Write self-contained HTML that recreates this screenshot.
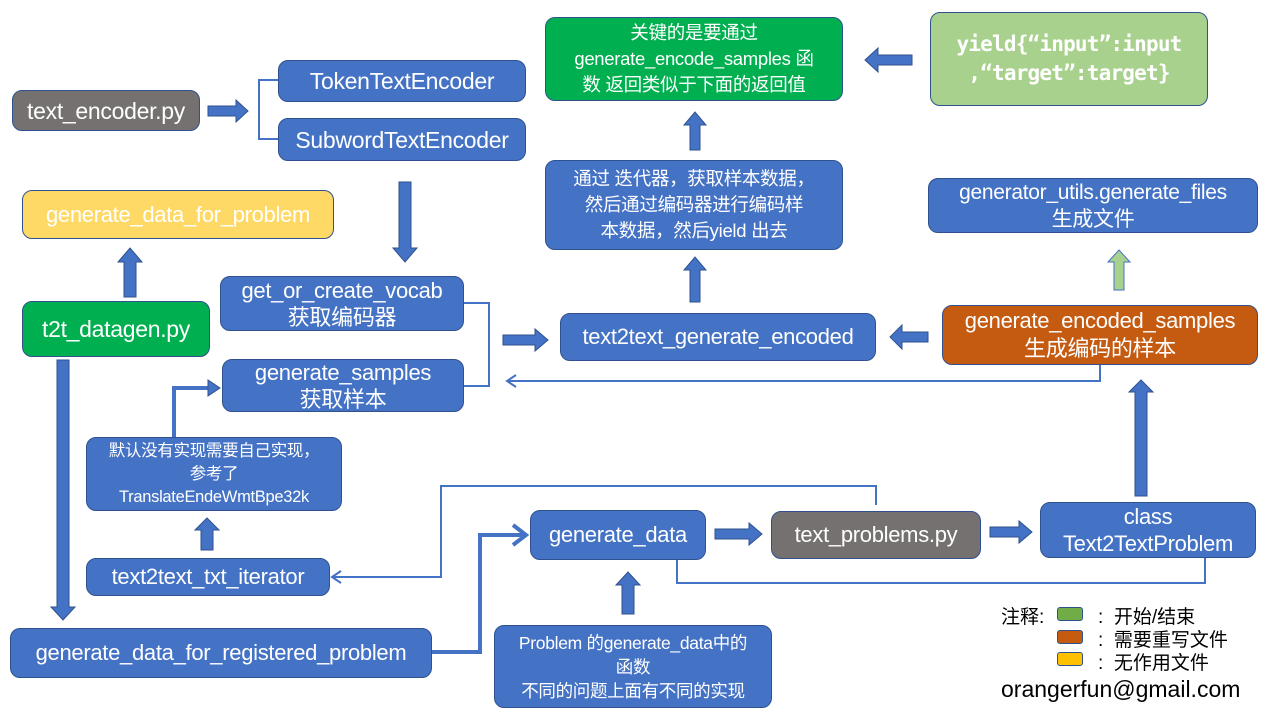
<!DOCTYPE html>
<html><head><meta charset="utf-8"><style>
body{margin:0;width:1280px;height:720px;background:#fff;position:relative;overflow:hidden;font-family:"Liberation Sans","Noto Sans CJK SC",sans-serif;}
.b{position:absolute;box-sizing:border-box;border:1.5px solid #2f528f;border-radius:10px;color:#fff;display:flex;align-items:center;justify-content:center;text-align:center;font-size:19px;line-height:24px;letter-spacing:-0.3px;background:#4472c4;}
.g{background:#767171;}
.gr{background:#00b050;}
.y{background:#ffd966;}
.o{background:#c55a11;}
.lg{background:#a9d18e;}
svg{position:absolute;left:0;top:0;}
.t{position:absolute;font-size:19px;color:#000;}
.sw{position:absolute;width:26px;height:14px;border:1px solid #2f528f;border-radius:3px;box-sizing:border-box;}
</style></head><body>
<svg width="1280" height="720">
<g fill="none" stroke="#4472c4" stroke-width="2">
<polyline points="278,80 259,80 259,139 278,139"/>
<polyline points="464,303 489,303 489,386 464,386"/>
<polyline points="1100,365 1100,381 508,381"/>
<polyline points="516,375 507,381 516,387"/>
<polyline points="876,505 876,486 441,486 441,577 333,577"/>
<polyline points="341,571 332,577 341,583"/>
<polyline points="1205,558 1205,583 677,583 677,560"/>
</g>
<g fill="none" stroke="#4472c4" stroke-width="4">
<polyline points="432,652 480,652 480,535 524,535"/>
<polyline points="513,525 526,535 513,545"/>
<polyline points="174,437 174,388 212,388"/>
</g>
<g fill="#4472c4" stroke="#2f528f" stroke-width="1">
<polygon points="220,388 208,380 208,396"/>
<polygon points="208,106 236,106 236,100 248,111 236,122 236,116 208,116"/>
<polygon points="503,335 535,335 535,329 548,340 535,351 535,345 503,345"/>
<polygon points="715,529 749,529 749,523 762,534 749,545 749,539 715,539"/>
<polygon points="990,527 1019,527 1019,521 1032,532 1019,543 1019,537 990,537"/>
<polygon points="912,55 878,55 878,48 865,60 878,72 878,65 912,65"/>
<polygon points="928,332 902,332 902,325 890,337 902,349 902,342 928,342"/>
<polygon points="690,150 690,125 684,125 695,112 706,125 700,125 700,150"/>
<polygon points="690,302 690,270 684,270 695,257 706,270 700,270 700,302"/>
<polygon points="124,297 124,262 118,262 130,248 142,262 136,262 136,297"/>
<polygon points="201,550 201,530 195,530 207,518 219,530 213,530 213,550"/>
<polygon points="622,614 622,585 616,585 628,572 640,585 634,585 634,614"/>
<polygon points="1135,496 1135,392 1129,392 1141,380 1153,392 1147,392 1147,496"/>
<polygon points="399,182 399,248 393,248 405,262 417,248 411,248 411,182"/>
<polygon points="57,360 57,607 51,607 63,620 75,607 69,607 69,360"/>
</g>
<polygon points="1114,290 1114,262 1108,262 1119,250 1130,262 1124,262 1124,290" fill="#a9d18e" stroke="#4472c4" stroke-width="1"/>
</svg>
<div class="b g" style="left:12px;top:90px;width:188px;height:41px;font-size:23px">text_encoder.py</div>
<div class="b" style="left:278px;top:60px;width:248px;height:42px;font-size:23px">TokenTextEncoder</div>
<div class="b" style="left:278px;top:118px;width:248px;height:43px;font-size:23px">SubwordTextEncoder</div>
<div class="b gr" style="left:545px;top:17px;width:298px;height:84px;font-size:18.5px;line-height:26px">关键的是要通过<br>generate_encode_samples 函<br>数 返回类似于下面的返回值</div>
<div class="b lg" style="left:930px;top:12px;width:278px;height:94px;font-family:'DejaVu Sans Mono','Liberation Mono',monospace;font-size:21px;font-weight:bold;line-height:29px;letter-spacing:-0.8px">yield{“input”:input<br>,“target”:target}</div>
<div class="b" style="left:545px;top:160px;width:298px;height:90px;font-size:18.5px;line-height:26px">通过 迭代器，获取样本数据，<br>然后通过编码器进行编码样<br>本数据，然后yield 出去</div>
<div class="b" style="left:928px;top:178px;width:330px;height:55px;font-size:21px;line-height:27px">generator_utils.generate_files<br>生成文件</div>
<div class="b y" style="left:22px;top:190px;width:312px;height:49px;font-size:22px">generate_data_for_problem</div>
<div class="b gr" style="left:22px;top:301px;width:188px;height:56px;font-size:23px">t2t_datagen.py</div>
<div class="b" style="left:220px;top:276px;width:244px;height:55px;font-size:22px;line-height:27px">get_or_create_vocab<br>获取编码器</div>
<div class="b" style="left:222px;top:359px;width:242px;height:53px;font-size:22px;line-height:27px">generate_samples<br>获取样本</div>
<div class="b" style="left:560px;top:313px;width:316px;height:48px;font-size:22px">text2text_generate_encoded</div>
<div class="b o" style="left:942px;top:305px;width:316px;height:60px;font-size:22px;line-height:28px">generate_encoded_samples<br>生成编码的样本</div>
<div class="b" style="left:86px;top:437px;width:256px;height:74px;font-size:16.5px;line-height:23px">默认没有实现需要自己实现，<br>参考了<br>TranslateEndeWmtBpe32k</div>
<div class="b" style="left:86px;top:558px;width:244px;height:38px;font-size:22px">text2text_txt_iterator</div>
<div class="b" style="left:10px;top:628px;width:422px;height:50px;font-size:22px">generate_data_for_registered_problem</div>
<div class="b" style="left:530px;top:510px;width:176px;height:50px;font-size:22px">generate_data</div>
<div class="b g" style="left:771px;top:511px;width:210px;height:48px;font-size:22px">text_problems.py</div>
<div class="b" style="left:1040px;top:502px;width:216px;height:56px;font-size:22px;line-height:27px">class<br>Text2TextProblem</div>
<div class="b" style="left:494px;top:625px;width:278px;height:83px;font-size:17.5px;line-height:24px">Problem 的generate_data中的<br>函数<br>不同的问题上面有不同的实现</div>
<div class="t" style="left:1001px;top:602px">注释:</div>
<div class="sw" style="left:1057px;top:607px;background:#70ad47"></div>
<div class="sw" style="left:1057px;top:630px;background:#c55a11"></div>
<div class="sw" style="left:1057px;top:652px;background:#ffc000"></div>
<div class="t" style="left:1098px;top:602px">:&nbsp; 开始/结束</div>
<div class="t" style="left:1098px;top:625px">:&nbsp; 需要重写文件</div>
<div class="t" style="left:1098px;top:648px">:&nbsp; 无作用文件</div>
<div class="t" style="left:1001px;top:676px;font-size:23px">orangerfun@gmail.com</div>
</body></html>
